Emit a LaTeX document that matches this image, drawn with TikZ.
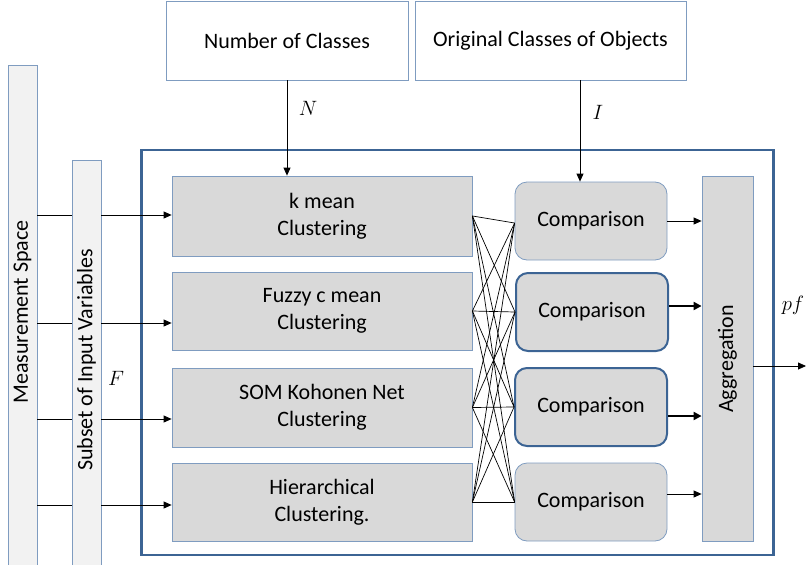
\documentclass[tikz,border=0pt]{standalone}
\usepackage{fontspec}
\setmainfont{Carlito}
\usetikzlibrary{arrows.meta,calc}
\definecolor{boxfill}{HTML}{D9D9D9}
\definecolor{barfill}{HTML}{F2F2F2}
\definecolor{edge}{HTML}{7F9CC0}
\definecolor{frame}{HTML}{3C6494}
\begin{document}
\begin{tikzpicture}[x=1pt,y=-1pt,
  txt/.style={font=\fontsize{22}{27}\selectfont, align=center},
  graybox/.style={draw=edge, line width=0.8pt, fill=boxfill, inner sep=0pt},
  whitebox/.style={draw=edge, line width=0.8pt, fill=white, inner sep=0pt},
  barbox/.style={draw=edge, line width=0.8pt, fill=barfill, inner sep=0pt},
  cmpbox/.style={graybox, rounded corners=12pt, minimum width=152pt, minimum height=78pt},
  cmpbold/.style={cmpbox, draw=frame, line width=2pt},
  clbox/.style={graybox, minimum width=300pt},
  arr/.style={-{Triangle[length=8pt,width=7pt]}, line width=0.8pt},
  boldarr/.style={-{Triangle[length=8pt,width=8pt]}, line width=2.4pt},
  wire/.style={line width=0.8pt},
  mathlbl/.style={font=\fontsize{20}{22}\selectfont}
]
\useasboundingbox (0,0) rectangle (806,565);

% outer frame of the clustering stage
\node[draw=frame, line width=2.4pt, minimum width=632pt, minimum height=405pt, inner sep=0pt] (frm) at (457.5,352.5) {};

% input bars
\node[barbox, minimum width=29pt, minimum height=500pt] (ms) at (22.5,315) {};
\node[txt, rotate=90] (mst) at (22.5,312) {Measurement Space};
\node[barbox, minimum width=29pt, minimum height=405pt] (sub) at (86.5,362.5) {};
\node[txt, rotate=90] (subt) at (86.5,360) {Subset of Input Variables};

% top inputs
\node[whitebox, minimum width=242pt, minimum height=79pt, txt] (nc) at (287,40.5) {Number of Classes};
\node[whitebox, minimum width=271pt, minimum height=79pt, txt] (oc) at (550.5,40.5) {Original Classes of Objects};

% clustering methods
\node[clbox, minimum height=80pt, txt] (km) at (322,216) {k mean\\Clustering};
\node[clbox, minimum height=78pt, txt] (fz) at (322,311) {Fuzzy c mean\\Clustering};
\node[clbox, minimum height=79pt, txt] (som) at (322,407.5) {SOM Kohonen Net\\Clustering};
\node[clbox, minimum height=78pt, txt] (hc) at (322,502) {Hierarchical\\Clustering.};

% comparisons
\node[cmpbox, txt] (c1) at (591,221) {Comparison};
\node[cmpbold, txt] (c2) at (592,312) {Comparison};
\node[cmpbold, txt] (c3) at (591,407) {Comparison};
\node[cmpbox, txt] (c4) at (591,502) {Comparison};

% aggregation
\node[graybox, minimum width=51pt, minimum height=365pt] (agg) at (727.5,358.5) {};
\node[txt, rotate=90] (aggt) at (727.5,359) {Aggregation};

% inputs from the measurement space
\foreach \yy/\tgt in {215/km,323/fz,419/som,505/hc}{
  \draw[wire] (ms.east |- 0,\yy) -- (sub.west |- 0,\yy);
  \draw[arr] (sub.east |- 0,\yy) -- (\tgt.west |- 0,\yy);
}

% parameters from the top
\draw[arr] (nc.south) -- (km.north -| nc.south);
\draw[arr] (oc.south -| 580,0) -- (c1.north -| 580,0);
\node[mathlbl] (nl) at (308,108) {$N$};
\node[mathlbl] (il) at (598,112) {$I$};
\node[mathlbl] (fl) at (116,378) {$F$};

% full crossbar between methods and comparisons
\coordinate (L1) at (km.east);
\coordinate (L2) at (fz.east);
\coordinate (L3) at (som.east);
\coordinate (L4) at (hc.east);
\coordinate (R1) at ($(c1.west)+(0,2)$);
\coordinate (R2) at (c2.west);
\coordinate (R3) at (c3.west);
\coordinate (R4) at (c4.west);
\foreach \i in {1,...,4}{
  \foreach \j in {1,...,4}{
    \draw[line width=0.7pt] (L\i) -- (R\j);
  }
}

% comparisons into aggregation
\draw[arr] (c1.east) -- (agg.west |- c1.east);
\draw[boldarr] (c2.east |- 0,306) -- (agg.west |- 0,306);
\draw[boldarr] (c3.east |- 0,416) -- (agg.west |- 0,416);
\draw[arr] (c4.east |- 0,494) -- (agg.west |- 0,494);

% output
\coordinate (out) at (806,366);
\draw[arr] (agg.east |- out) -- (out);
\node[mathlbl] (pfl) at (793,305) {$pf$};
\end{tikzpicture}
\end{document}
